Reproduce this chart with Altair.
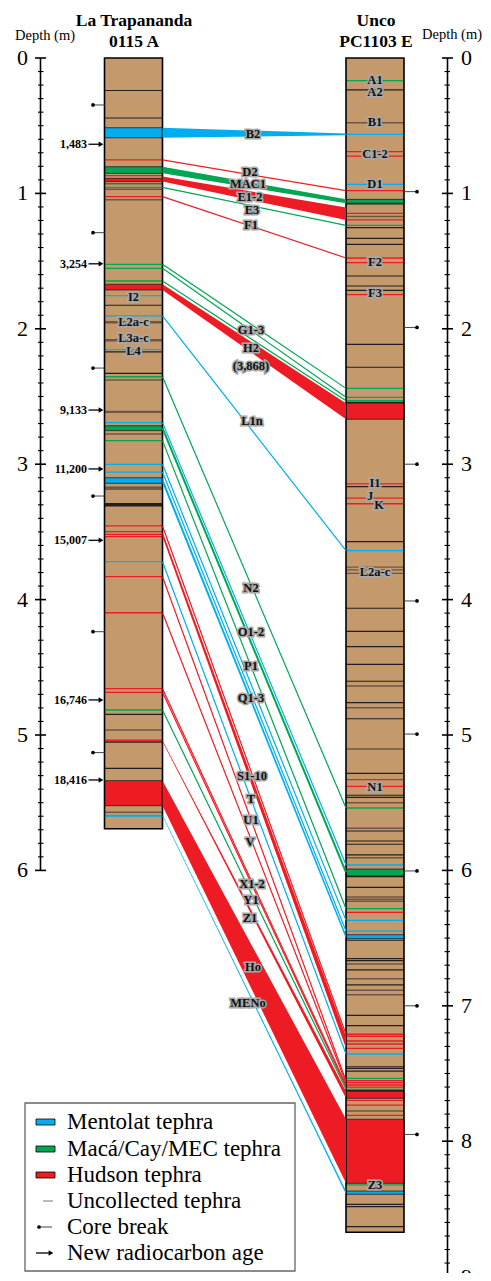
import altair as alt
import pandas as pd
import numpy as np

# ---------------- colours ----------------
TAN = '#C49A6C'; BLUE = '#00AEEF'; GREEN = '#00A651'; RED = '#ED1C24'
BLK = '#231F20'; BRN = '#6B5744'
COL = {'M': BLUE, 'C': GREEN, 'H': RED, 'k': BLK, 'b': BRN}

# ---------------- data (depths in m) ----------------
core_titles = [['La Trapananda', '0115 A'], ['Unco', 'PC1103 E']]
core_bottom = [5.692, 8.673]

# La Trapananda 0115 A : thick tephra bands (top, bottom, type)
lt_bands = [(0.515, 0.589, 'M'), (0.803, 0.852, 'C'), (0.889, 0.913, 'H'),
            (1.671, 1.713, 'H'), (2.716, 2.752, 'C'), (3.100, 3.141, 'M'),
            (5.337, 5.522, 'H')]
# thin layers (depth, type, width)
lt_lines = [(0.24, 'k', 1.2), (0.443, 'k', 1.2), (0.753, 'H', 1.3), (0.869, 'H', 1.3),
            (0.928, 'b', 1.5), (0.955, 'C', 1.3), (0.970, 'b', 1.5), (1.024, 'H', 1.3),
            (1.046, 'b', 1.5), (1.524, 'C', 1.3), (1.553, 'C', 1.3), (1.647, 'C', 1.3),
            (1.755, 'M', 1.3), (1.826, 'k', 1.2), (1.905, 'M', 1.3), (1.952, 'b', 2.5),
            (2.085, 'b', 2.5), (2.154, 'M', 1.3), (2.171, 'k', 1.2), (2.329, 'k', 1.2),
            (2.354, 'C', 1.3), (2.378, 'b', 1.5), (2.614, 'b', 2.2), (2.693, 'M', 1.3),
            (2.777, 'b', 1.5), (2.826, 'C', 1.3), (3.001, 'M', 1.3), (3.058, 'M', 1.3),
            (3.171, 'b', 1.5), (3.183, 'k', 1.2), (3.299, 'k', 3.5), (3.456, 'H', 1.3),
            (3.498, 'H', 1.3), (3.518, 'H', 1.3), (3.535, 'H', 1.3), (3.720, 'M', 1.3),
            (3.831, 'H', 1.3), (4.097, 'H', 1.3), (4.658, 'H', 1.3), (4.685, 'H', 1.3),
            (4.815, 'C', 1.5), (4.847, 'k', 1.2), (4.963, 'b', 1.5), (5.040, 'H', 2.0),
            (5.052, 'k', 1.2), (5.246, 'k', 1.2), (5.570, 'b', 1.5), (5.596, 'M', 2.0)]

# Unco PC1103 E
un_bands = [(1.044, 1.073, 'C'), (2.550, 2.668, 'H'), (5.990, 6.040, 'C'),
            (6.475, 6.504, 'M'), (7.632, 7.683, 'H'), (7.838, 8.311, 'H'),
            (8.368, 8.392, 'M')]
un_lines = [(0.167, 'C', 1.3), (0.236, 'k', 1.2), (0.478, 'b', 1.5), (0.564, 'M', 1.3),
            (0.692, 'H', 1.3), (0.724, 'H', 1.3), (0.933, 'M', 1.3), (0.980, 'H', 1.3),
            (1.078, 'k', 1.2), (1.147, 'H', 1.3), (1.171, 'b', 1.5), (1.196, 'H', 1.3),
            (1.236, 'C', 1.3), (1.253, 'k', 1.2), (1.332, 'k', 1.2), (1.376, 'k', 1.2),
            (1.477, 'H', 1.3), (1.512, 'H', 1.3), (1.610, 'k', 1.2), (1.684, 'k', 1.2),
            (1.716, 'k', 1.2), (1.748, 'H', 1.3), (2.115, 'k', 1.2), (2.284, 'k', 1.2),
            (2.440, 'C', 1.3), (2.506, 'C', 1.3), (2.531, 'C', 1.3), (2.543, 'k', 1.2),
            (3.146, 'H', 1.3), (3.166, 'k', 1.2), (3.250, 'H', 1.3), (3.292, 'H', 1.3),
            (3.572, 'k', 1.2), (3.639, 'M', 1.3), (3.760, 'b', 1.2), (3.780, 'b', 1.2),
            (3.806, 'b', 1.2), (4.064, 'k', 1.2), (4.234, 'k', 1.2), (4.348, 'k', 1.2),
            (4.478, 'k', 1.2), (4.603, 'k', 1.2), (4.638, 'b', 1.5), (4.761, 'k', 1.2),
            (4.798, 'b', 1.5), (4.880, 'k', 1.2), (5.103, 'b', 1.5), (5.283, 'k', 1.2),
            (5.330, 'H', 1.3), (5.379, 'H', 1.3), (5.445, 'k', 1.2), (5.460, 'k', 1.2),
            (5.500, 'b', 1.5), (5.539, 'C', 1.3), (5.689, 'b', 1.5), (5.709, 'k', 1.2),
            (5.783, 'k', 1.2), (5.807, 'k', 1.2), (5.886, 'k', 1.2), (5.906, 'b', 1.5),
            (5.960, 'M', 1.3), (6.046, 'k', 1.2), (6.125, 'k', 1.2), (6.196, 'b', 1.5),
            (6.213, 'b', 1.5), (6.228, 'b', 1.5), (6.283, 'C', 1.3), (6.310, 'H', 1.3),
            (6.369, 'M', 1.3), (6.448, 'M', 1.3), (6.516, 'k', 1.2), (6.652, 'k', 1.2),
            (6.667, 'k', 1.2), (6.691, 'b', 1.5), (6.735, 'k', 1.2), (6.800, 'b', 1.5),
            (6.846, 'k', 1.2), (6.885, 'b', 1.5), (6.918, 'b', 1.5), (7.070, 'k', 1.2),
            (7.147, 'k', 1.2), (7.210, 'H', 1.3), (7.225, 'H', 1.3), (7.260, 'H', 1.3),
            (7.282, 'H', 1.3), (7.314, 'H', 1.3), (7.356, 'M', 1.3), (7.450, 'k', 1.2),
            (7.462, 'k', 1.2), (7.482, 'k', 1.2), (7.536, 'C', 1.3), (7.553, 'H', 1.3),
            (7.568, 'H', 1.3), (7.585, 'H', 1.3), (7.600, 'H', 1.3), (7.617, 'C', 1.3),
            (7.627, 'k', 1.2), (7.698, 'H', 1.3), (7.733, 'H', 1.3), (7.777, 'b', 1.5),
            (7.809, 'H', 1.3), (8.323, 'C', 1.3), (8.466, 'k', 1.2), (8.483, 'k', 1.2),
            (8.631, 'k', 1.2)]

# correlation bands: (left top, left bottom, right top, right bottom, type)
corr_bands = [(0.515, 0.589, 0.557, 0.571, 'M'), (0.803, 0.852, 1.044, 1.073, 'C'),
              (0.875, 0.913, 1.105, 1.196, 'H'), (1.671, 1.713, 2.550, 2.668, 'H'),
              (3.100, 3.141, 6.475, 6.504, 'M'), (3.498, 3.535, 7.225, 7.314, 'H'),
              (5.040, 5.050, 7.632, 7.683, 'H'), (5.337, 5.522, 7.838, 8.311, 'H'),
              (5.590, 5.600, 8.368, 8.392, 'M')]
# correlation lines: (left depth, right depth, type, width)
corr_lines = [(0.753, 0.980, 'H', 1.2), (0.955, 1.236, 'C', 1.2), (1.024, 1.477, 'H', 1.2),
              (1.524, 2.440, 'C', 1.2), (1.553, 2.506, 'C', 1.2), (1.647, 2.531, 'C', 1.2),
              (1.905, 3.639, 'M', 1.2), (2.354, 5.539, 'C', 1.2), (2.693, 5.960, 'M', 1.2),
              (2.734, 6.015, 'C', 2.0), (2.826, 6.283, 'C', 1.2), (3.001, 6.369, 'M', 1.2),
              (3.058, 6.448, 'M', 1.2), (3.456, 7.210, 'H', 1.2), (3.720, 7.356, 'M', 1.2),
              (3.831, 7.553, 'H', 1.2), (4.097, 7.568, 'H', 1.2), (4.658, 7.585, 'H', 1.2),
              (4.685, 7.600, 'H', 1.2), (4.815, 7.617, 'C', 1.2)]

# correlation labels (text, depth at middle)
mid_labels = [('B2', 0.561), ('D2', 0.842), ('MAC1', 0.931), ('E1-2', 1.027), ('E3', 1.123),
              ('F1', 1.233), ('G1-3', 2.009), ('H2', 2.142), ('(3,868)', 2.275),
              ('L1n', 2.681), ('N2', 3.914), ('O1-2', 4.239), ('P1', 4.49), ('Q1-3', 4.727),
              ('S1-10', 5.303), ('T', 5.473), ('U1', 5.628), ('V', 5.79), ('X1-2', 6.10),
              ('Y1', 6.219), ('Z1', 6.352), ('Ho', 6.714), ('MENo', 6.979)]
mid_label_x = [253, 250, 248, 250, 252, 251, 251, 251, 251, 252, 251, 251, 251, 251,
               252, 251, 251, 250, 252, 251, 250, 253, 248]
lt_labels = [('I2', 1.765), ('L2a-c', 1.95), ('L3a-c', 2.068), ('L4', 2.164)]
un_labels = [('A1', 0.162), ('A2', 0.251), ('B1', 0.473), ('C1-2', 0.709), ('D1', 0.931),
             ('F2', 1.507), ('F3', 1.736), ('I1', 3.139), ('L2a-c', 3.796), ('N1', 5.384),
             ('Z3', 8.32)]
jk_labels = [('J', 3.235, -5), ('K', 3.301, 4)]

# radiocarbon ages (text, depth)
c14_ages = [('1,483', 0.637), ('3,254', 1.52), ('9,133', 2.60), ('11,200', 3.035),
            ('15,007', 3.562), ('16,746', 4.741), ('18,416', 5.332)]
# core breaks
lt_breaks = [0.347, 1.29, 2.29, 3.235, 4.237, 5.13]
un_breaks = [0.987, 1.99, 3.0, 4.01, 4.993, 6.004, 7.0, 7.95]

legend_items = ['Mentolat tephra', 'Macá/Cay/MEC tephra', 'Hudson tephra',
                'Uncollected tephra', 'Core break', 'New radiocarbon age']

# ---------------- layout ----------------
W, H = 475, 1265
PXM = 135.4          # pixels per metre
Y0 = 58              # page y of depth 0
def dep(py):         # page y -> depth
    return (py - Y0) / PXM

LX0, LX1 = 104.5, 162.5
RX0, RX1 = 346, 404
LAX, RAX = 40.5, 447.5

xs = alt.Scale(domain=[8, 8 + W], nice=False, zero=False)
ys = alt.Scale(domain=[dep(8), dep(8 + H)], nice=False, zero=False, reverse=True)

def ex(f='x'):
    return alt.X(f'{f}:Q', scale=xs, axis=None)
def ey(f='y'):
    return alt.Y(f'{f}:Q', scale=ys, axis=None)

SERIF = "'Liberation Serif', 'Times New Roman', Times, serif"
layers = []

# core bodies
cores = pd.DataFrame({'x': [LX0, RX0], 'x2': [LX1, RX1], 'y': [0, 0], 'y2': core_bottom})
layers.append(alt.Chart(cores).mark_rect(fill=TAN).encode(
    x=ex(), x2='x2', y=ey(), y2='y2'))

# thin layers in cores
rows = []
for d, t, w in lt_lines:
    rows.append({'x': LX0, 'x2': LX1, 'y': d, 'c': COL[t], 'w': w})
for d, t, w in un_lines:
    rows.append({'x': RX0, 'x2': RX1, 'y': d, 'c': COL[t], 'w': w})
layers.append(alt.Chart(pd.DataFrame(rows)).mark_rule().encode(
    x=ex(), x2='x2', y=ey(), color=alt.Color('c:N', scale=None),
    size=alt.Size('w:Q', scale=None)))

# thick bands in cores
rows = []
for a, b, t in lt_bands:
    rows.append({'x': LX0, 'x2': LX1, 'y': a, 'y2': b, 'c': COL[t]})
for a, b, t in un_bands:
    rows.append({'x': RX0, 'x2': RX1, 'y': a, 'y2': b, 'c': COL[t]})
layers.append(alt.Chart(pd.DataFrame(rows)).mark_rect(stroke=BLK, strokeWidth=0.8).encode(
    x=ex(), x2='x2', y=ey(), y2='y2', fill=alt.Fill('c:N', scale=None)))

# core outlines
layers.append(alt.Chart(cores).mark_rect(fill=None, stroke='black', strokeWidth=1.6).encode(
    x=ex(), x2='x2', y=ey(), y2='y2'))

# correlation bands
rows = []
for i, (lt, lb, rt, rb, t) in enumerate(corr_bands):
    rows.append({'id': i, 'x': LX1, 'y': lt, 'y2': lb, 'c': COL[t]})
    rows.append({'id': i, 'x': RX0, 'y': rt, 'y2': rb, 'c': COL[t]})
layers.append(alt.Chart(pd.DataFrame(rows)).mark_area(orient='vertical').encode(
    x=ex(), y=ey(), y2='y2', color=alt.Color('c:N', scale=None), detail='id:N'))

# correlation lines
rows = []
for i, (l, r, t, w) in enumerate(corr_lines):
    rows.append({'id': i, 'x': LX1, 'y': l, 'c': COL[t], 'w': w})
    rows.append({'id': i, 'x': RX0, 'y': r, 'c': COL[t], 'w': w})
layers.append(alt.Chart(pd.DataFrame(rows)).mark_line().encode(
    x=ex(), y=ey(), color=alt.Color('c:N', scale=None), detail='id:N',
    size=alt.Size('w:Q', scale=None)))

# depth axes
ax_lines = pd.DataFrame({'x': [LAX, RAX], 'y': [0, 0], 'y2': [6, 9]})
layers.append(alt.Chart(ax_lines).mark_rule(color='black', strokeWidth=1.6).encode(
    x=ex(), y=ey(), y2='y2'))
rows = []
for v in np.round(np.arange(0, 6.01, 0.1), 2):
    major = abs(v - round(v)) < 1e-6
    rows.append({'x': LAX - (5.5 if major else 2.5), 'x2': LAX + (5.5 if major else 3), 'y': v,
                 'w': 1.6 if major else 1.1})
for v in np.round(np.arange(0, 9.01, 0.1), 2):
    major = abs(v - round(v)) < 1e-6
    rows.append({'x': RAX - (5.5 if major else 3), 'x2': RAX + (5.5 if major else 2.5), 'y': v,
                 'w': 1.6 if major else 1.1})
layers.append(alt.Chart(pd.DataFrame(rows)).mark_rule(color='black').encode(
    x=ex(), x2='x2', y=ey(), size=alt.Size('w:Q', scale=None)))
rows = [{'x': 28, 'y': v, 't': str(v)} for v in range(0, 7)]
layers.append(alt.Chart(pd.DataFrame(rows)).mark_text(
    font=SERIF, fontSize=22, align='right', baseline='middle', color='black').encode(
    x=ex(), y=ey(), text='t:N'))
rows = [{'x': 461, 'y': v, 't': str(v)} for v in range(0, 10)]
layers.append(alt.Chart(pd.DataFrame(rows)).mark_text(
    font=SERIF, fontSize=22, align='left', baseline='middle', color='black').encode(
    x=ex(), y=ey(), text='t:N'))
hdr = pd.DataFrame({'x': [45, 452], 'y': [dep(36), dep(35)], 't': ['Depth (m)', 'Depth (m)']})
layers.append(alt.Chart(hdr).mark_text(
    font=SERIF, fontSize=14.5, align='center', baseline='middle', color='black').encode(
    x=ex(), y=ey(), text='t:N'))

# core titles
rows = []
for cx, (a, b) in zip([134, 376], core_titles):
    rows.append({'x': cx, 'y': dep(21), 't': a})
    rows.append({'x': cx, 'y': dep(42), 't': b})
layers.append(alt.Chart(pd.DataFrame(rows)).mark_text(
    font=SERIF, fontSize=17.5, fontWeight='bold', align='center', baseline='middle',
    color='black').encode(x=ex(), y=ey(), text='t:N'))

# core breaks
rows = [{'x': 93, 'x2': LX0, 'y': d} for d in lt_breaks] + \
       [{'x': RX1, 'x2': 417, 'y': d} for d in un_breaks]
bk = pd.DataFrame(rows)
bk['px'] = np.where(bk['x'] < 200, bk['x'], bk['x2'])
layers.append(alt.Chart(bk).mark_rule(color='#444', strokeWidth=1).encode(
    x=ex(), x2='x2', y=ey()))
layers.append(alt.Chart(bk).mark_circle(color='black', size=14, opacity=1).encode(
    x=ex('px'), y=ey()))

# radiocarbon ages
c14 = pd.DataFrame([{'t': t, 'y': d, 'x': 87, 'ax': 88.5, 'ax2': 100, 'hx': 101}
                    for t, d in c14_ages])
layers.append(alt.Chart(c14).mark_text(
    font=SERIF, fontSize=12, fontWeight='bold', align='right', baseline='middle',
    color='black').encode(x=ex(), y=ey(), text='t:N'))
layers.append(alt.Chart(c14).mark_rule(color='black', strokeWidth=1.3).encode(
    x=ex('ax'), x2='ax2', y=ey()))
layers.append(alt.Chart(c14).mark_point(shape='triangle-right', filled=True, size=30,
                                        color='black', opacity=1).encode(x=ex('hx'), y=ey()))

# tephra labels with grey halo
rows = []
for (t, d), x in zip(mid_labels, mid_label_x):
    rows.append({'x': x, 'y': d, 't': t})
for t, d in lt_labels:
    rows.append({'x': 133.5, 'y': d, 't': t})
for t, d in un_labels:
    rows.append({'x': 375, 'y': d, 't': t})
for t, d, off in jk_labels:
    rows.append({'x': 375 + off, 'y': d, 't': t})
labs = pd.DataFrame(rows)
for st in [dict(stroke='#a8a8a8', strokeWidth=3.2, fill='#a8a8a8'), dict(fill='#111')]:
    layers.append(alt.Chart(labs).mark_text(
        font=SERIF, fontSize=12.5, fontWeight='bold', align='center', baseline='middle',
        **st).encode(x=ex(), y=ey(), text='t:N'))

# legend
lg_rows_y = [1122, 1149, 1175, 1201, 1227, 1253]
box = pd.DataFrame({'x': [25], 'x2': [295], 'y': [dep(1103)], 'y2': [dep(1271)]})
layers.append(alt.Chart(box).mark_rect(fill='white', stroke='#666', strokeWidth=1.3).encode(
    x=ex(), x2='x2', y=ey(), y2='y2'))
sw = pd.DataFrame({'x': [36] * 3, 'x2': [55] * 3,
                   'y': [dep(py - 3) for py in lg_rows_y[:3]],
                   'y2': [dep(py + 3) for py in lg_rows_y[:3]],
                   'c': [BLUE, GREEN, RED]})
layers.append(alt.Chart(sw).mark_rect(stroke='black', strokeWidth=0.8).encode(
    x=ex(), x2='x2', y=ey(), y2='y2', fill=alt.Fill('c:N', scale=None)))
lgl = pd.DataFrame({'x': [43, 39, 36], 'x2': [53, 52, 50],
                    'y': [dep(py) for py in lg_rows_y[3:]],
                    'c': ['#777', '#444', 'black'], 'w': [1.0, 1.0, 1.3]})
layers.append(alt.Chart(lgl).mark_rule().encode(
    x=ex(), x2='x2', y=ey(), color=alt.Color('c:N', scale=None),
    size=alt.Size('w:Q', scale=None)))
layers.append(alt.Chart(pd.DataFrame({'x': [39], 'y': [dep(lg_rows_y[4])]})).mark_circle(
    color='black', size=14, opacity=1).encode(x=ex(), y=ey()))
layers.append(alt.Chart(pd.DataFrame({'x': [51], 'y': [dep(lg_rows_y[5])]})).mark_point(
    shape='triangle-right', filled=True, size=30, color='black', opacity=1).encode(
    x=ex(), y=ey()))
lgt = pd.DataFrame({'x': [67] * 6, 'y': [dep(py) for py in lg_rows_y], 't': legend_items})
layers.append(alt.Chart(lgt).mark_text(
    font=SERIF, fontSize=23, align='left', baseline='middle', color='black').encode(
    x=ex(), y=ey(), text='t:N'))

chart = alt.layer(*layers).properties(
    width=W, height=H, padding=0, autosize=alt.AutoSizeParams(type='none')
).configure_view(stroke=None)

chart.save('out.html', embed_options={'renderer': 'svg', 'actions': False})
